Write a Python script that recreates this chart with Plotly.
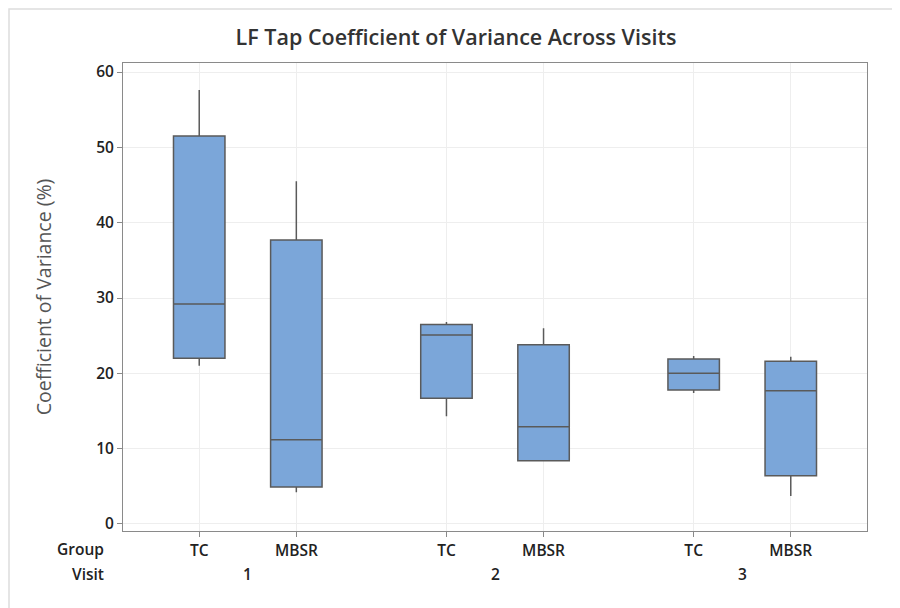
import plotly.graph_objects as go

# Data
groups = ["TC", "MBSR", "TC", "MBSR", "TC", "MBSR"]
visits = ["1", "1", "2", "2", "3", "3"]
lower_whisker = [21.0, 4.2, 14.3, 8.4, 17.4, 3.7]
q1 = [22.0, 4.9, 16.7, 8.4, 17.8, 6.4]
median = [29.2, 11.2, 25.1, 12.9, 20.0, 17.7]
q3 = [51.5, 37.7, 26.5, 23.8, 21.9, 21.6]
upper_whisker = [57.6, 45.5, 26.8, 26.0, 22.3, 22.2]
y_ticks = [0, 10, 20, 30, 40, 50, 60]

# layout positions: two boxes per visit, gap between visits
gap = 2.546
xpos = []
for i in range(len(groups)):
    v = i // 2
    xpos.append(v * gap + (i % 2))

fig = go.Figure()
fig.add_trace(go.Box(
    x=xpos,
    q1=q1, median=median, q3=q3,
    lowerfence=lower_whisker, upperfence=upper_whisker,
    fillcolor="#7BA6D9",
    line=dict(color="#5a5a5a", width=1.5),
    whiskerwidth=0,
    width=0.53,
    boxpoints=False,
    showlegend=False,
    hoverinfo="skip",
))

L, R, T, B = 115, 41, 55, 85
PW, PH = 900 - L - R, 608 - T - B

font_fam = "Open Sans, Noto Sans, sans-serif"
lab_font = dict(family=font_fam, size=15.5, color="#222", weight=600)
annotations = [
    dict(text="Group", x=-17 / PW, xref="paper", y=-18 / PH, yref="paper",
         xanchor="right", yanchor="middle", showarrow=False, font=lab_font),
    dict(text="Visit", x=-17 / PW, xref="paper", y=-43 / PH, yref="paper",
         xanchor="right", yanchor="middle", showarrow=False, font=lab_font),
]
for v in range(3):
    annotations.append(dict(
        text=visits[2 * v], x=v * gap + 0.5, xref="x", y=-43 / PH, yref="paper",
        xanchor="center", yanchor="middle", showarrow=False, font=lab_font))

fig.update_layout(
    width=900, height=608,
    paper_bgcolor="white", plot_bgcolor="white",
    margin=dict(l=L, r=R, t=T, b=B),
    title=dict(text="LF Tap Coefficient of Variance Across Visits",
               x=(456 - 8) / 900, xanchor="center", y=1 - 29 / 608, yanchor="middle",
               font=dict(family=font_fam, size=21.5, color="#333", weight=600)),
    xaxis=dict(
        range=[-0.785, 2 * gap + 1 + 0.785],
        tickvals=xpos, ticktext=groups,
        showgrid=True, gridcolor="#eeeeee", gridwidth=1,
        zeroline=False,
        showline=True, linecolor="#8a8a8a", linewidth=1, mirror=True,
        ticks="outside", ticklen=5, tickcolor="#8a8a8a",
        tickfont=lab_font,
    ),
    yaxis=dict(
        range=[-0.93, 61.2],
        tickvals=y_ticks,
        showgrid=True, gridcolor="#eeeeee", gridwidth=1,
        zeroline=False,
        showline=True, linecolor="#8a8a8a", linewidth=1, mirror=True,
        ticks="outside", ticklen=5, tickcolor="#8a8a8a",
        tickfont=lab_font,
        title=dict(text="Coefficient of Variance (%)", standoff=39,
                   font=dict(family=font_fam, size=19.5, color="#555")),
    ),
    annotations=annotations,
    shapes=[dict(type="rect", xref="paper", yref="paper",
                 x0=-(L - 1) / PW, x1=1 + (R + 30) / PW, y0=-(B + 20) / PH, y1=1 + (T - 1) / PH,
                 line=dict(color="#dddddd", width=1.5), fillcolor="rgba(0,0,0,0)",
                 layer="below")],
)

fig.write_html("out.html")
